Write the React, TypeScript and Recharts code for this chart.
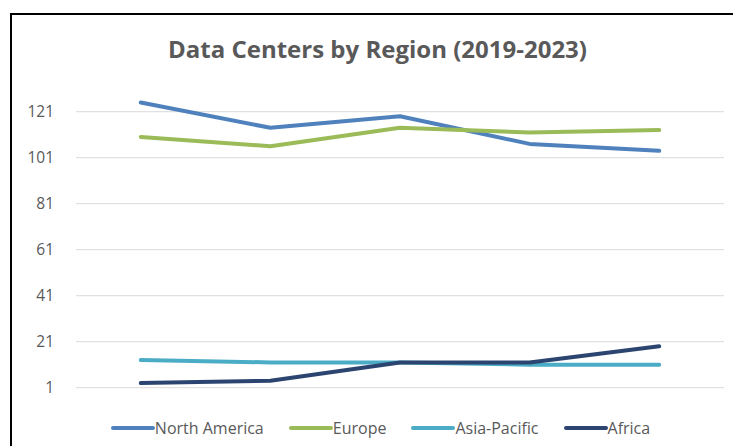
import React from 'react';
import { LineChart, Line, XAxis, YAxis, CartesianGrid } from 'recharts';

const years = ['2019', '2020', '2021', '2022', '2023'];
const northAmerica = [125, 114, 119, 107, 104];
const europe = [110, 106, 114, 112, 113];
const asiaPacific = [13, 12, 12, 11, 11];
const africa = [3, 4, 12, 12, 19];
const yTicks = [1, 21, 41, 61, 81, 101, 121];
const seriesNames = ['North America', 'Europe', 'Asia-Pacific', 'Africa'];
const seriesKeys = ['na', 'eu', 'ap', 'af'];
const seriesColors = ['#4f81bd', '#9bbb59', '#4bacc6', '#2b4570'];
const title = 'Data Centers by Region (2019-2023)';

const data = years.map((year, i) => ({
  year,
  na: northAmerica[i],
  eu: europe[i],
  ap: asiaPacific[i],
  af: africa[i],
}));

const FONT = '"Open Sans", sans-serif';

export default function App() {
  return (
    <div style={{ position: 'fixed', left: 0, top: 0, width: 733, height: 446, overflow: 'hidden', fontFamily: FONT, background: '#fff' }}>
      <div
        style={{
          position: 'absolute',
          left: 10,
          top: 13,
          width: 760,
          height: 460,
          borderTop: '2px solid #000',
          borderLeft: '2px solid #000',
        }}
      />
      <div
        style={{
          position: 'absolute',
          left: 0,
          width: 755,
          top: 33,
          textAlign: 'center',
          fontSize: 24,
          fontWeight: 700,
          color: '#595959',
          lineHeight: '32px',
          whiteSpace: 'nowrap',
        }}
      >
        {title}
      </div>
      <div style={{ position: 'absolute', left: 0, top: 0 }}>
        <LineChart
          width={733}
          height={446}
          data={data}
          margin={{ top: 65.7, right: 9, bottom: 58.3, left: 0 }}
        >
          <CartesianGrid vertical={false} stroke="#d9d9d9" strokeWidth={1} syncWithTicks />
          <XAxis dataKey="year" hide padding={{ left: 64.8, right: 64.8 }} />
          <YAxis
            width={76}
            domain={[1, 141]}
            ticks={yTicks}
            axisLine={false}
            tickLine={false}
            tickSize={0}
            tickMargin={22}
            tick={{ fill: '#595959', fontSize: 15.5, fontFamily: FONT }}
            interval={0}
          />
          {seriesKeys.map((k, i) => (
            <Line
              key={k}
              type="linear"
              dataKey={k}
              name={seriesNames[i]}
              stroke={seriesColors[i]}
              strokeWidth={4}
              strokeLinecap="round"
              strokeLinejoin="round"
              dot={false}
              activeDot={false}
              isAnimationActive={false}
            />
          ))}
        </LineChart>
      </div>
      <div
        style={{
          position: 'absolute',
          left: 0,
          width: 760,
          top: 418,
          height: 20,
          display: 'flex',
          justifyContent: 'center',
          alignItems: 'center',
          gap: 24,
          fontSize: 16,
          color: '#595959',
          whiteSpace: 'nowrap',
        }}
      >
        {seriesNames.map((n, i) => (
          <div key={n} style={{ display: 'flex', alignItems: 'center' }}>
            <svg width={45} height={8} style={{ display: 'block' }}>
              <line x1={3} y1={4} x2={43} y2={4} stroke={seriesColors[i]} strokeWidth={4} strokeLinecap="round" />
            </svg>
            <span>{n}</span>
          </div>
        ))}
      </div>
    </div>
  );
}
